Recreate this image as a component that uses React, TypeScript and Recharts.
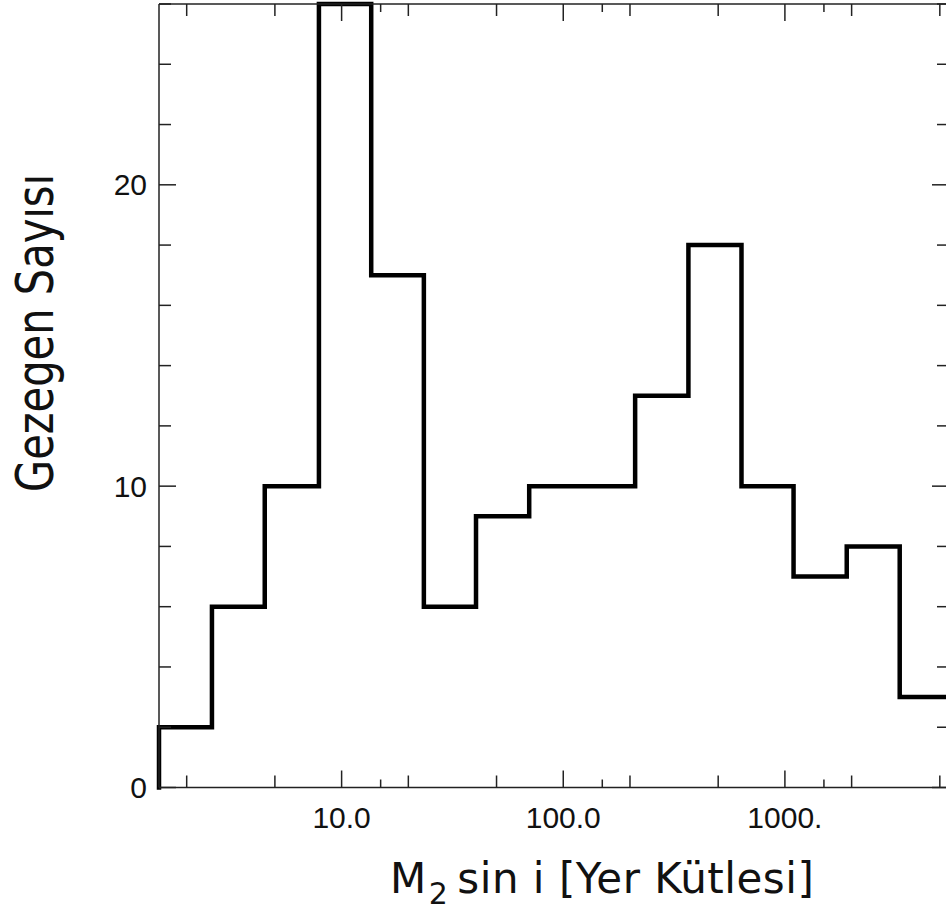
import { LineChart, Line, XAxis, YAxis } from "recharts";

// Histogram bin edges (Earth masses) and planet counts per bin
const binEdges = [1.5, 2.6, 4.5, 7.9, 13.6, 23.5, 40.4, 70.2, 122, 211, 367, 637, 1094, 1901, 3296, 5500];
const planetCounts = [2, 6, 10, 26, 17, 6, 9, 10, 10, 13, 18, 10, 7, 8, 3];

// Log axis ticks: labelled decades, plus 2/5 and 1.5 minors
const xMajorTicks = [10, 100, 1000];
const xMajorLabels = ["10.0", "100.0", "1000."];
const xMidTicks = [2, 5, 20, 50, 200, 500, 2000, 5000];
const xShortTicks = [15, 150, 1500];
const yTicks = [0, 2, 4, 6, 8, 10, 12, 14, 16, 18, 20, 22, 24, 26];
const yMajorTicks = [0, 10, 20];

const X_DOMAIN = [1.5, 5500];
const Y_DOMAIN = [0, 26];

const INK = "#111";
const FRAME = "#222";
const TICK_FONT = "'Liberation Sans', Arial, sans-serif";

// step path: start on the baseline, then one point per edge; the last edge repeats the final count
const histData = [
  { mass: binEdges[0], count: 0 },
  ...binEdges.map((m, i) => ({ mass: m, count: planetCounts[Math.min(i, planetCounts.length - 1)] })),
];

const allXTicks = [...xMajorTicks, ...xMidTicks, ...xShortTicks].sort((a, b) => a - b);

function xTickLen(v: number) {
  if (xMajorTicks.includes(v)) return 17;
  if (xMidTicks.includes(v)) return 12;
  return 8;
}

function yTickLen(v: number) {
  return yMajorTicks.includes(v) ? 17 : 12;
}

const BottomTick = (props: any) => {
  const { x, y, payload } = props;
  const v = payload.value;
  const idx = xMajorTicks.indexOf(v);
  return (
    <g>
      <line x1={x} x2={x} y1={y} y2={y - xTickLen(v)} stroke={FRAME} strokeWidth={1.5} />
      {idx >= 0 && (
        <text x={x} y={y + 40} textAnchor="middle" fontFamily={TICK_FONT} fontSize={30} fill={INK}>
          {xMajorLabels[idx]}
        </text>
      )}
    </g>
  );
};

const TopTick = (props: any) => {
  const { x, y, payload } = props;
  return <line x1={x} x2={x} y1={y} y2={y + xTickLen(payload.value)} stroke={FRAME} strokeWidth={1.5} />;
};

const LeftTick = (props: any) => {
  const { x, y, payload } = props;
  const v = payload.value;
  return (
    <g>
      <line x1={x} x2={x + yTickLen(v)} y1={y} y2={y} stroke={FRAME} strokeWidth={1.5} />
      {yMajorTicks.includes(v) && (
        <text x={x - 12} y={y + 10.5} textAnchor="end" fontFamily={TICK_FONT} fontSize={30} fill={INK}>
          {v}
        </text>
      )}
    </g>
  );
};

const RightTick = (props: any) => {
  const { x, y, payload } = props;
  return <line x1={x} x2={x - yTickLen(payload.value)} y1={y} y2={y} stroke={FRAME} strokeWidth={1.5} />;
};

const XTitle = () => (
  <text x={390} y={893} fontFamily="DejaVu Sans" fontSize={42} letterSpacing={0.5} fill={INK}>
    M
    <tspan dx={2} dy={11} fontSize={30}>2</tspan>
    <tspan dx={9} dy={-11}>sin i [Yer Kütlesi]</tspan>
  </text>
);

const YTitle = () => (
  <text
    transform="translate(53,333) rotate(-90) scale(0.8,1)"
    textAnchor="middle"
    fontFamily="DejaVu Sans"
    fontSize={52}
    fill={INK}
  >
    Gezegen Sayısı
  </text>
);

export default function App() {
  const width = 960;
  const height = 911;
  return (
    <div style={{ position: "fixed", left: 0, top: 0, width: 946, height: 911, overflow: "hidden", background: "#fff" }}>
      <LineChart
        width={width}
        height={height}
        data={histData}
        margin={{ top: 3, left: 158, right: width - 950, bottom: 122.5 }}
      >
        <XAxis
          dataKey="mass"
          type="number"
          scale="log"
          domain={X_DOMAIN}
          ticks={allXTicks}
          interval={0}
          height={1}
          tickSize={0}
          tickMargin={0}
          tickLine={false}
          axisLine={{ stroke: FRAME, strokeWidth: 1.5 }}
          tick={<BottomTick />}
          label={{ content: <XTitle /> }}
        />
        <XAxis
          xAxisId="top"
          orientation="top"
          dataKey="mass"
          type="number"
          scale="log"
          domain={X_DOMAIN}
          allowDataOverflow
          ticks={allXTicks}
          interval={0}
          height={1}
          tickSize={0}
          tickMargin={0}
          tickLine={false}
          axisLine={{ stroke: FRAME, strokeWidth: 1.5 }}
          tick={<TopTick />}
        />
        <YAxis
          type="number"
          domain={Y_DOMAIN}
          ticks={yTicks}
          interval={0}
          width={1}
          tickSize={0}
          tickMargin={0}
          tickLine={false}
          axisLine={{ stroke: FRAME, strokeWidth: 1.5 }}
          tick={<LeftTick />}
          label={{ content: <YTitle /> }}
        />
        <YAxis
          yAxisId="right"
          orientation="right"
          type="number"
          domain={Y_DOMAIN}
          allowDataOverflow
          ticks={yTicks}
          interval={0}
          width={1}
          tickSize={0}
          tickMargin={0}
          tickLine={false}
          axisLine={{ stroke: FRAME, strokeWidth: 1.5 }}
          tick={<RightTick />}
        />
        <Line
          dataKey="count"
          type="stepAfter"
          stroke="#000"
          strokeWidth={4.5}
          strokeLinejoin="miter"
          strokeLinecap="square"
          dot={false}
          activeDot={false}
          isAnimationActive={false}
        />
      </LineChart>
    </div>
  );
}
